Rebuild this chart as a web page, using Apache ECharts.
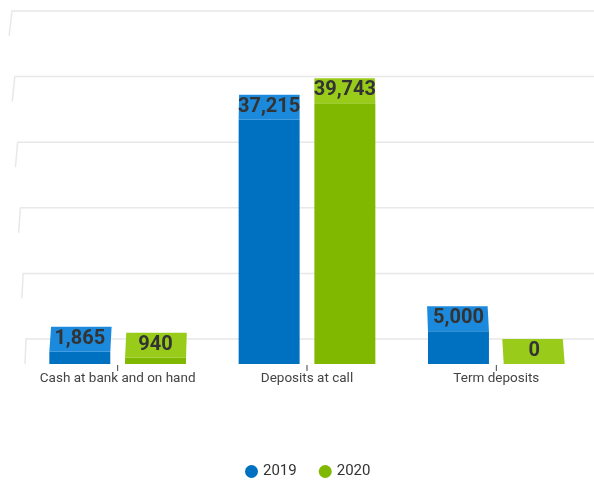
<!DOCTYPE html>
<html>
<head>
<meta charset="utf-8">
<script src="https://cdn.jsdelivr.net/npm/echarts@6/dist/echarts.min.js"></script>
<style>html,body{margin:0;padding:0;background:#fff;}#c{width:594px;height:481px;}</style>
</head>
<body>
<div id="c"></div>
<script>
const categories = ['Cash at bank and on hand', 'Deposits at call', 'Term deposits'];
const seriesNames = ['2019', '2020'];
const values2019 = [1865, 37215, 5000];
const values2020 = [940, 39743, 0];
const yTicks = [0, 10000, 20000, 30000, 40000, 50000];

const FRONT = ['#0070c0', '#80b800'];
const TOPC = ['#1b89dc', '#99cc1a'];
const DEPTH = 25;

const chart = echarts.init(document.getElementById('c'), null, {renderer: 'canvas'});

function barRenderer(idx) {
  const sign = idx === 0 ? -1 : 1;
  return function (params, api) {
    const cat = api.value(0), v = api.value(1);
    const p = api.coord([cat, v]);
    const p0 = api.coord([cat, 0]);
    const band = api.size([1, 0])[0];
    const w = band * 0.322;
    const cx = p[0] + sign * band * 0.2;
    const x1 = cx - w / 2, x2 = cx + w / 2;
    const yBack = p[1], yFront = p[1] + DEPTH, yBase = p0[1] + DEPTH;
    const vc = 300;
    const bx1 = x1 + (vc - x1) * 0.007, bx2 = x2 + (vc - x2) * 0.007;
    const children = [];
    if (yBase - yFront > 0.1) {
      children.push({type: 'rect', shape: {x: x1, y: yFront, width: w, height: yBase - yFront},
        style: {fill: FRONT[idx]}});
    }
    children.push({type: 'polygon', shape: {points: [[bx1, yBack], [bx2, yBack], [x2, yFront], [x1, yFront]]},
      style: {fill: TOPC[idx]}});
    children.push({type: 'text', style: {text: v.toLocaleString('en-US'), x: cx, y: yBack + 12,
      align: 'center', verticalAlign: 'middle', font: 'bold 20px Roboto', fill: '#333333'}});
    return {type: 'group', children: children};
  };
}

function gridRenderer(params, api) {
  const v = api.value(1);
  const p = api.coord([0, v]);
  const y = p[1];
  const t = (y - 10) / 329;
  const xb = 12 + t * 14;
  const dx = -3 + t * 2;
  return {type: 'polyline', shape: {points: [[xb + dx, y + DEPTH], [xb, y], [api.getWidth(), y]]},
    style: {stroke: '#e8e8e8', lineWidth: 1.5, fill: null}};
}

const option = {
  backgroundColor: '#ffffff',
  animation: false,
  grid: {left: 23, right: 3, top: 11, bottom: 142},
  legend: {
    data: seriesNames, icon: 'circle', itemWidth: 13, itemHeight: 13, itemGap: 22,
    left: 240, top: 459,
    textStyle: {fontFamily: 'Roboto', fontSize: 15, color: '#333333'}
  },
  xAxis: {
    type: 'category', data: categories, offset: DEPTH,
    axisLine: {show: false},
    axisTick: {show: false},
    axisLabel: {
      interval: 0, margin: 1,
      formatter: function (v) { return '{t|}\n{l|' + v + '}'; },
      rich: {
        t: {width: 1, height: 6, lineHeight: 6, backgroundColor: '#444444'},
        l: {fontFamily: 'Roboto', fontSize: 13.5, color: '#444444', lineHeight: 15}
      }
    }
  },
  yAxis: {
    type: 'value', min: 0, max: 50000, interval: 10000,
    axisLine: {show: false}, axisTick: {show: false}, axisLabel: {show: false}, splitLine: {show: false}
  },
  series: [
    {type: 'custom', name: 'grid', renderItem: gridRenderer, clip: false, silent: true, z: 1,
      data: yTicks.map(v => [0, v])},
    {type: 'custom', name: seriesNames[0], renderItem: barRenderer(0), clip: false, z: 3,
      itemStyle: {color: FRONT[0]},
      data: values2019.map((v, i) => [i, v])},
    {type: 'custom', name: seriesNames[1], renderItem: barRenderer(1), clip: false, z: 3,
      itemStyle: {color: FRONT[1]},
      data: values2020.map((v, i) => [i, v])}
  ]
};
chart.setOption(option);
</script>
</body>
</html>
